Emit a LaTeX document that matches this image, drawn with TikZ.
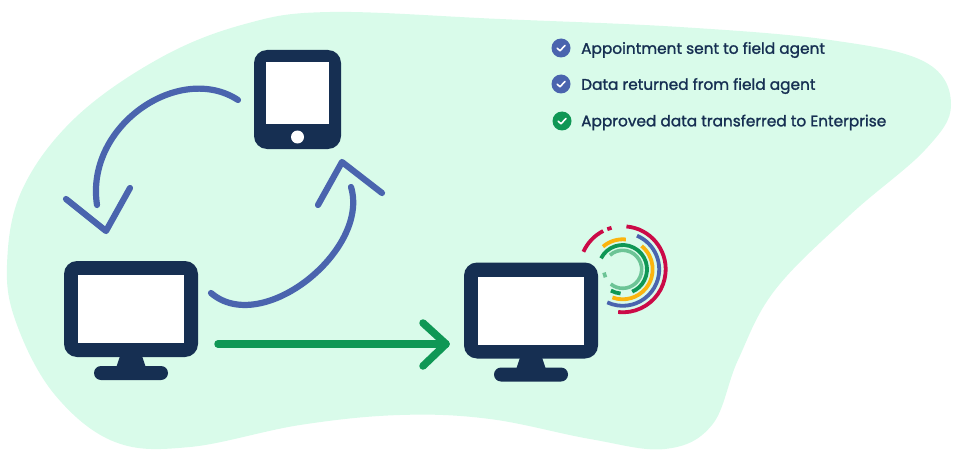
\documentclass[tikz,border=0pt]{standalone}
\usepackage{fontspec}
\setmainfont{Poppins}[FakeBold=1.4]
\usetikzlibrary{arrows.meta,positioning,calc}

\definecolor{blobgreen}{HTML}{D9FBEA}
\definecolor{navy}{HTML}{162F52}
\definecolor{flowblue}{HTML}{4A64AE}
\definecolor{flowgreen}{HTML}{0F9755}
\definecolor{ringred}{HTML}{CB0A47}
\definecolor{ringyellow}{HTML}{FBB40E}
\definecolor{ringlight}{HTML}{6CC496}

\tikzset{
    bodybox/.style={fill=navy, rounded corners=13pt, inner sep=0pt, outer sep=0pt},
    glassbox/.style={fill=white, inner sep=0pt, outer sep=0pt},
    footbar/.style={fill=navy, rounded corners=7pt, minimum width=74pt, minimum height=14pt, inner sep=0pt},
    bluecurve/.style={draw=flowblue, line width=6.2pt, line cap=round, line join=round},
    greenline/.style={draw=flowgreen, line width=7.5pt, line cap=round, line join=round},
    bulletdot/.style={circle, minimum size=19pt, inner sep=0pt},
    itemtext/.style={anchor=west, inner sep=0pt, text=navy, font=\fontsize{15.35}{18}\selectfont},
}

\begin{document}
\begin{tikzpicture}[x=1pt, y=-1pt]
    \useasboundingbox (0,0) rectangle (963,468);

    % Background blob
    \fill[blobgreen] plot[smooth cycle, tension=0.62] coordinates {
        (330,12) (500,19) (680,27) (830,40) (925,62) (951,105) (925,150)
        (850,215) (775,290) (738,360) (712,425) (665,449) (590,439)
        (490,419) (400,415) (300,425) (190,447) (115,442) (55,395)
        (17,325) (7,265) (22,190) (75,118) (160,58) (245,24)
    };

    % Tablet
    \node[bodybox, minimum width=87pt, minimum height=99pt] (tablet) at (297.5,99.5) {};
    \node[glassbox, minimum width=63pt, minimum height=62pt] (tabletglass) at (297.5,93) {};
    \node[glassbox, circle, minimum size=13pt] (tabletbutton) at (297.5,137) {};

    % Left monitor
    \node[bodybox, minimum width=134pt, minimum height=96pt] (leftscreen) at (131,309) {};
    \node[glassbox, minimum width=106pt, minimum height=68pt] (leftglass) at (leftscreen) {};
    \fill[navy] (120,356) -- (142,356) -- (146,368) -- (116,368) -- cycle;
    \node[footbar] (leftfoot) at (131,373) {};

    % Right monitor
    \node[bodybox, minimum width=134pt, minimum height=96pt] (rightscreen) at (531,310.5) {};
    \node[glassbox, minimum width=106pt, minimum height=68pt] (rightglass) at (rightscreen) {};
    \fill[navy] (520,357.5) -- (542,357.5) -- (546,369.5) -- (516,369.5) -- cycle;
    \node[footbar] (rightfoot) at (531,374.5) {};

    % Curve from tablet down to left monitor
    \coordinate (tabletout) at (238,100);
    \coordinate (leftin) at (97,205);
    \coordinate (lefttip) at (106,231);
    \draw[bluecurve] (tabletout) .. controls (180,62) and (85,125) .. (leftin);
    \draw[bluecurve] (66,199) -- (lefttip) -- (130,188);

    % Curve from left monitor up to tablet
    \coordinate (leftout) at (211,293);
    \coordinate (tabletin) at (351,187);
    \coordinate (tablettip) at (342,162);
    \draw[bluecurve] (leftout) .. controls (262,337) and (370,250) .. (tabletin);
    \draw[bluecurve] (318,205) -- (tablettip) -- (382,193);

    % Transfer to right monitor
    \coordinate (transferout) at (218,344);
    \coordinate (transferin) at (446,344);
    \draw[greenline] (transferout) -- (transferin);
    \draw[greenline] (423,323) -- (transferin) -- (423,366);

    % Rings
    \coordinate (ringcentre) at (622.7,269.3);
    \foreach \col/\rad/\from/\to/\wid in {
        ringred/43/-85/96/3.8, ringred/43/204/243/3.8, ringred/43/249/255/3.8,
        flowblue/36.5/-67/115/3.8,
        ringyellow/30/-84/-131/3.8, ringyellow/30/-51/110/3.8,
        flowgreen/24.3/207/427/3.8, flowgreen/24.3/95/119/3.8,
        ringlight/19/228/489/3.6, ringlight/19/155/170/3.6} {
        \draw[\col, line width=\wid pt] ($(ringcentre)+(\from:\rad)$) arc[start angle=\from, end angle=\to, radius=\rad];
    }

    % Status list
    \node[bulletdot, fill=flowblue] (sentdot) at (561,48) {};
    \node[bulletdot, fill=flowblue] (returneddot) at (561,84) {};
    \node[bulletdot, fill=flowgreen] (approveddot) at (562,121) {};
    \foreach \dotname in {sentdot,returneddot,approveddot} {
        \draw[white, line width=1.6pt, line cap=round, line join=round]
            ($(\dotname)+(-3.8,0.2)$) -- ($(\dotname)+(-1,2.8)$) -- ($(\dotname)+(4,-2.6)$);
    }
    \node[itemtext] (senttext) at (581,50) {Appointment sent to field agent};
    \node[itemtext] (returnedtext) at (581,86) {Data returned from field agent};
    \node[itemtext] (approvedtext) at (581,122.5) {Approved data transferred to Enterprise};
\end{tikzpicture}
\end{document}
